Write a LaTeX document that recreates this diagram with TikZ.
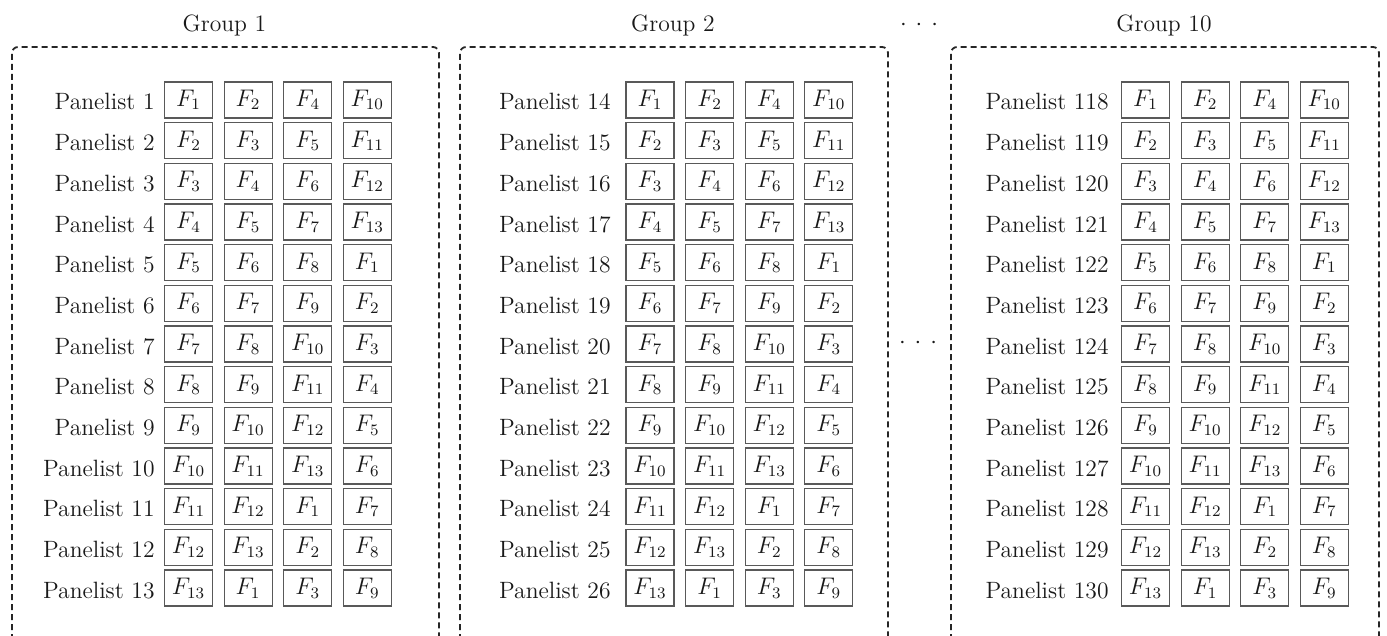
\documentclass[tikz,border=0pt]{standalone}
\begin{document}
\begin{tikzpicture}[x=0.5pt,y=-0.5pt,
  txt/.style={font=\fontsize{11.8}{14}\selectfont, text=black!90},
  grp/.style={draw=black!85, line width=0.9pt, dash pattern=on 3pt off 2pt, rounded corners=3pt},
  cell/.style={txt, draw=black!65, line width=0.55pt, minimum width=24pt, minimum height=18pt, inner sep=0pt},
  lab/.style={txt, anchor=base east, inner sep=0pt},
  ttl/.style={txt, anchor=base, inner sep=0pt},
  dotsnode/.style={txt, inner sep=0pt}]
\clip (0,0) rectangle (1387,636);
\fill[white] (0,0) rectangle (1387,636);
\foreach \g/\bl/\br/\cx/\lx/\first/\name in {1/12/439/188.5/155/1/Group 1, 2/460/888/650/611/14/Group 2, 10/951/1379/1145.5/1109/118/Group 10}{
  \draw[grp] (\bl,700) -- (\bl,47) -- (\br,47) -- (\br,700);
  \node[ttl] (t\g) at ({(\bl+\br)/2-1},32) {\name};
  \foreach \i in {1,...,13}{
    \pgfmathtruncatemacro\pn{\first+\i-1}
    \pgfmathsetmacro\yy{100+40.67*(\i-1)}
    \node[lab] (g\g l\i) at (\lx,\yy+10) {Panelist \pn};
    \foreach \c/\sh in {0/0,1/1,2/3,3/9}{
      \pgfmathtruncatemacro\fidx{mod(\i-1+\sh,13)+1}
      \node[cell] (g\g r\i c\c) at (\cx+59.6*\c,\yy) {$F_{\fidx}$};
    }
  }
}
\node[dotsnode] (dtop) at (919,25) {$\cdot$\hspace{4.5pt}$\cdot$\hspace{4.5pt}$\cdot$};
\node[dotsnode] (dmid) at (918,343) {$\cdot$\hspace{4.5pt}$\cdot$\hspace{4.5pt}$\cdot$};
\end{tikzpicture}
\end{document}
